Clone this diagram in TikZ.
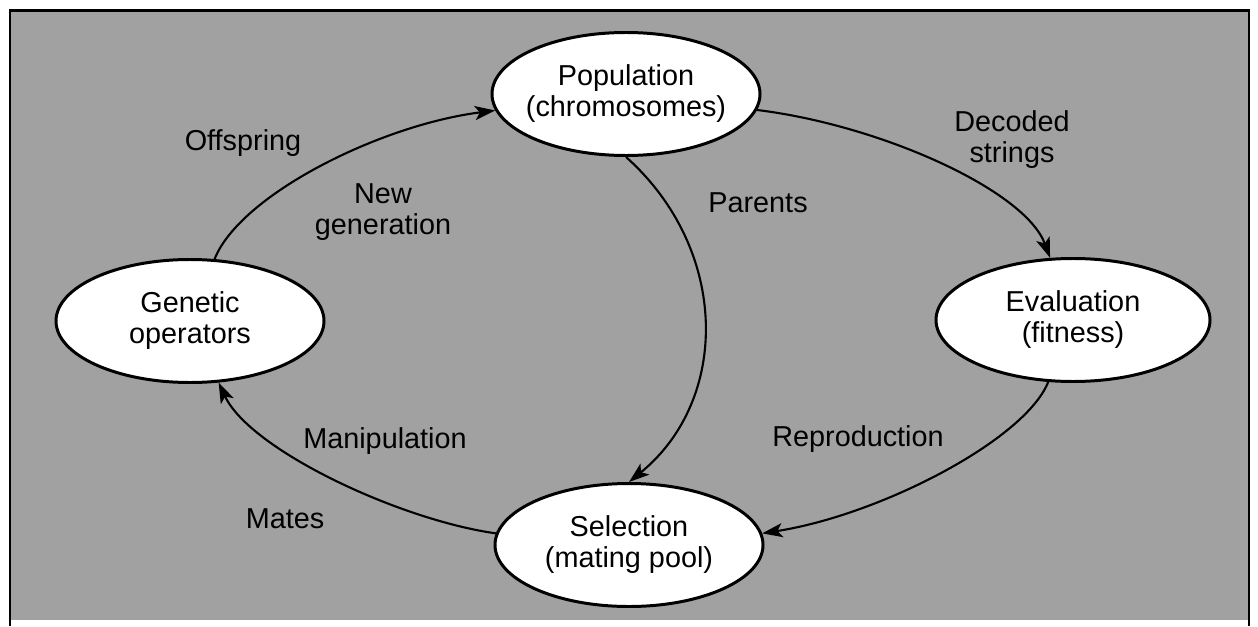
\documentclass[tikz,border=0pt]{standalone}
\usepackage{fontspec}
\setmainfont{Liberation Sans}
\usetikzlibrary{shapes.geometric,arrows.meta}
\newcommand{\gafont}{\fontsize{8.2pt}{8.8pt}\selectfont}
\begin{document}
\begin{tikzpicture}[x=0.1mm,y=-0.1mm,
  stage/.style={ellipse, draw, line width=0.85pt, fill=white,
    minimum width=26.8mm, minimum height=12.3mm, inner sep=-1mm,
    align=center, font=\gafont},
  flow/.style={line width=0.6pt,
    -{Stealth[length=5.8pt,width=4pt,inset=1.4pt]}},
  lbl/.style={inner sep=0pt, align=center, font=\gafont},
  frameline/.style={line width=0.8pt},
]
% page and screened background
\useasboundingbox (0,0) rectangle (1258,626);
\fill[white] (0,0) rectangle (1258,626);
\fill[black!37] (10,10) rectangle (1249,620);
\draw[frameline] (10,626) -- (10,10.5) -- (1249,10.5) -- (1249,626);

% the four stages of the cycle
\node[stage] (pop) at (626,94) {Population\\(chromosomes)};
\node[stage, minimum width=27.4mm] (eval) at (1073,320) {Evaluation\\(fitness)};
\node[stage] (sel) at (629,545) {Selection\\(mating pool)};
\node[stage] (gen) at (190,321) {Genetic\\operators};

% connectors
\draw[flow] (gen) .. controls (240,195) and (380,125) .. (pop);
\draw[flow] (pop) .. controls (880,125) and (1025,190) .. (eval);
\draw[flow] (pop.south) .. controls (730,250) and (730,400) .. (sel.north);
\draw[flow] (eval) .. controls (1025,440) and (880,515) .. (sel.5);
\draw[flow] (sel.175) .. controls (400,520) and (250,450) .. (gen);

% connector labels
\node[lbl] (off) at (243,143) {Offspring};
\node[lbl] (newgen) at (383,212) {New\\generation};
\node[lbl] (par) at (758,203) {Parents};
\node[lbl] (dec) at (1012,140) {Decoded\\strings};
\node[lbl] (man) at (385,441) {Manipulation};
\node[lbl] (mat) at (285,519) {Mates};
\node[lbl] (rep) at (858,439) {Reproduction};
\end{tikzpicture}
\end{document}
